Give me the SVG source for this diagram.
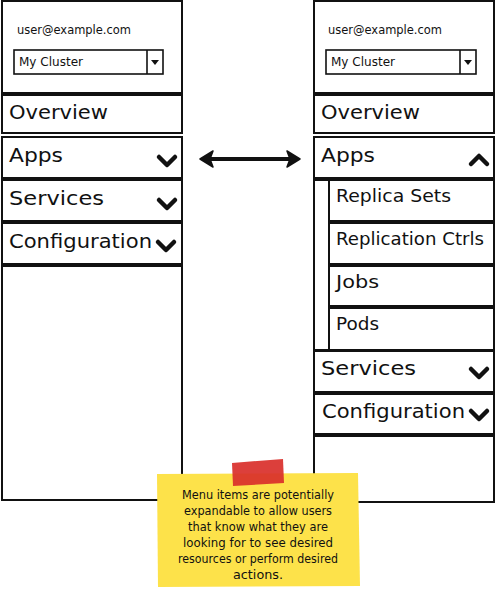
<svg xmlns="http://www.w3.org/2000/svg" width="497" height="591" viewBox="0 0 497 591">
<style>
.box{fill:#fff;stroke:#111;stroke-width:2}
.dd{fill:#fff;stroke:#111;stroke-width:1.6}
.t{font-family:"DejaVu Sans",sans-serif;fill:#111}
.big{font-size:20px}
.sub{font-size:17px}
.sm{font-size:12.5px}
.chev{fill:none;stroke:#111;stroke-width:4.5;stroke-linecap:round;stroke-linejoin:round}
.note{font-family:"DejaVu Sans",sans-serif;font-size:11.5px;fill:#111;text-anchor:middle}
</style>
<rect width="497" height="591" fill="#fff"/>
<g id="left-panel">
  <rect class="box" x="2" y="1" width="180" height="92"/>
  <text class="t sm" x="17" y="34" textLength="114" lengthAdjust="spacingAndGlyphs">user@example.com</text>
  <rect class="dd" x="14" y="50" width="149" height="24"/>
  <line x1="147" y1="50" x2="147" y2="74" stroke="#111" stroke-width="1.6"/>
  <path d="M151 60 L159 60 L155 65 Z" fill="#111"/>
  <text class="t sm" x="19" y="66" textLength="64" lengthAdjust="spacingAndGlyphs">My Cluster</text>
</g>
<g id="left-overview">
  <rect class="box" x="2" y="95" width="180" height="38"/>
  <text class="t big" x="9" y="119" textLength="99" lengthAdjust="spacingAndGlyphs">Overview</text>
</g>
<g id="left-apps">
  <rect class="box" x="2" y="137" width="180" height="41"/>
  <text class="t big" x="9" y="162" textLength="54" lengthAdjust="spacingAndGlyphs">Apps</text>
  <polyline class="chev" points="159,157 167,165 175,157"/>
</g>
<g id="left-services">
  <rect class="box" x="2" y="180" width="180" height="41"/>
  <text class="t big" x="9" y="205" textLength="95" lengthAdjust="spacingAndGlyphs">Services</text>
  <polyline class="chev" points="159,200 167,208 175,200"/>
</g>
<g id="left-configuration">
  <rect class="box" x="2" y="223" width="180" height="41"/>
  <text class="t big" x="9" y="248" textLength="143" lengthAdjust="spacingAndGlyphs">Configuration</text>
  <polyline class="chev" points="158,242 166,250 174,242"/>
</g>
<g id="left-empty">
  <rect class="box" x="2" y="266" width="180" height="234"/>
</g>

<g id="right-panel">
  <rect class="box" x="314" y="1" width="180" height="92"/>
  <text class="t sm" x="328" y="34" textLength="114" lengthAdjust="spacingAndGlyphs">user@example.com</text>
  <rect class="dd" x="326" y="50" width="150" height="24"/>
  <line x1="460" y1="50" x2="460" y2="74" stroke="#111" stroke-width="1.6"/>
  <path d="M464 60 L472 60 L468 65 Z" fill="#111"/>
  <text class="t sm" x="331" y="66" textLength="64" lengthAdjust="spacingAndGlyphs">My Cluster</text>
</g>
<g id="right-overview">
  <rect class="box" x="314" y="95" width="180" height="38"/>
  <text class="t big" x="321" y="119" textLength="99" lengthAdjust="spacingAndGlyphs">Overview</text>
</g>
<g id="right-apps">
  <rect class="box" x="314" y="137" width="180" height="41"/>
  <text class="t big" x="321" y="162" textLength="54" lengthAdjust="spacingAndGlyphs">Apps</text>
  <polyline class="chev" points="471,164 479,156 487,164"/>
</g>
<g id="right-submenu-strip">
  <rect class="box" x="314" y="180" width="15" height="170"/>
</g>
<g id="right-replica-sets">
  <rect class="box" x="329" y="180" width="165" height="41"/>
  <text class="t sub" x="336" y="202" textLength="115" lengthAdjust="spacingAndGlyphs">Replica Sets</text>
</g>
<g id="right-replication-ctrls">
  <rect class="box" x="329" y="223" width="165" height="41"/>
  <text class="t sub" x="336" y="245" textLength="148" lengthAdjust="spacingAndGlyphs">Replication Ctrls</text>
</g>
<g id="right-jobs">
  <rect class="box" x="329" y="266" width="165" height="40"/>
  <text class="t sub" x="336" y="288" textLength="43" lengthAdjust="spacingAndGlyphs">Jobs</text>
</g>
<g id="right-pods">
  <rect class="box" x="329" y="308" width="165" height="42"/>
  <text class="t sub" x="336" y="330" textLength="43" lengthAdjust="spacingAndGlyphs">Pods</text>
</g>
<g id="right-services">
  <rect class="box" x="314" y="351" width="180" height="41"/>
  <text class="t big" x="321" y="375" textLength="95" lengthAdjust="spacingAndGlyphs">Services</text>
  <polyline class="chev" points="471,369 479,377 487,369"/>
</g>
<g id="right-configuration">
  <rect class="box" x="314" y="394" width="180" height="40"/>
  <text class="t big" x="322" y="418" textLength="143" lengthAdjust="spacingAndGlyphs">Configuration</text>
  <polyline class="chev" points="471,411 479,419 487,411"/>
</g>
<g id="right-empty">
  <rect class="box" x="314" y="436" width="180" height="66"/>
</g>

<g id="connectors">
  <line x1="208" y1="159" x2="291" y2="159" stroke="#111" stroke-width="4"/>
  <path d="M200 159 L213 151 L210 159 L213 167 Z" fill="#111" stroke="#111" stroke-width="1.5" stroke-linejoin="round"/>
  <path d="M300 159 L287 151 L290 159 L287 167 Z" fill="#111" stroke="#111" stroke-width="1.5" stroke-linejoin="round"/>
</g>

<g id="sticky-note">
  <path d="M157 474 L358 473 L360 586 L158 587 Z" fill="#FDE24A"/>
  <path d="M232 463 L283 459 L284 483 L233 486 Z" fill="#D92F2A" opacity="0.92"/>
  <text class="note" x="258" y="499" textLength="152" lengthAdjust="spacingAndGlyphs">Menu items are potentially</text>
  <text class="note" x="258" y="515" textLength="148" lengthAdjust="spacingAndGlyphs">expandable to allow users</text>
  <text class="note" x="258" y="531" textLength="140" lengthAdjust="spacingAndGlyphs">that know what they are</text>
  <text class="note" x="258" y="547" textLength="150" lengthAdjust="spacingAndGlyphs">looking for to see desired</text>
  <text class="note" x="258" y="563" textLength="160" lengthAdjust="spacingAndGlyphs">resources or perform desired</text>
  <text class="note" x="258" y="579" textLength="50" lengthAdjust="spacingAndGlyphs">actions.</text>
</g>
</svg>
